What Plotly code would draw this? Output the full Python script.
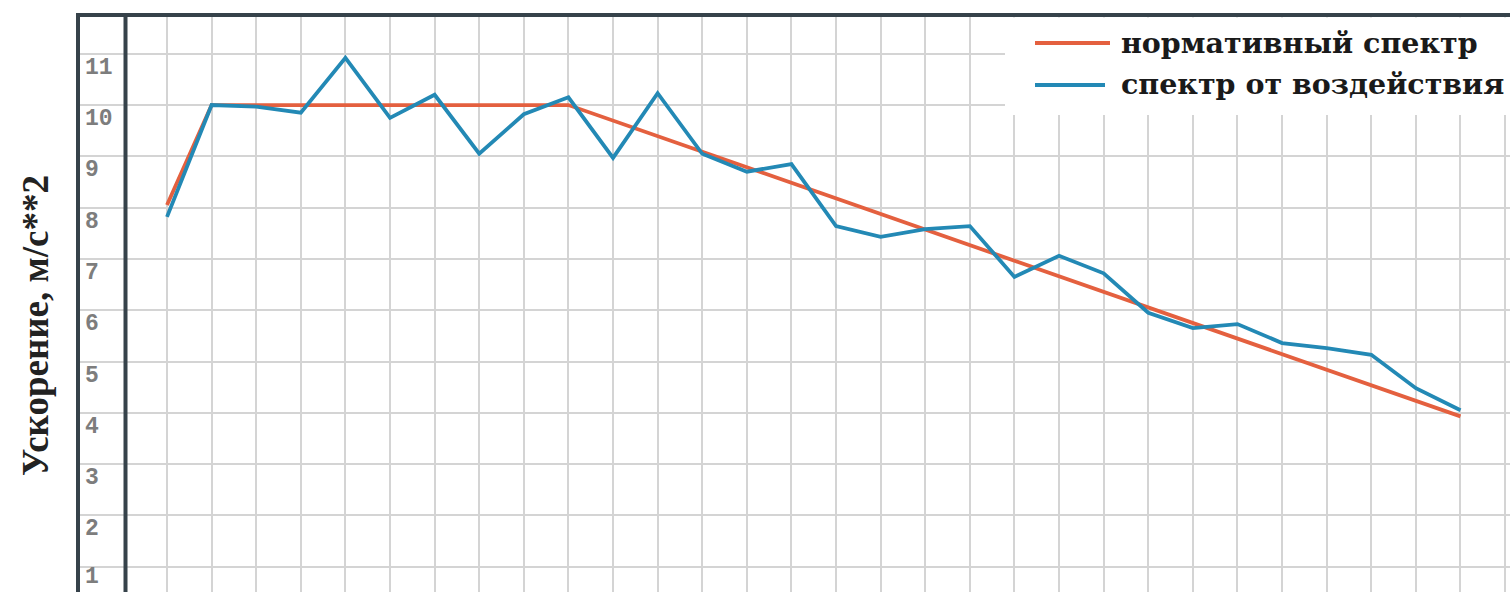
import plotly.graph_objects as go

# Spectrum sample points (grid step index along the horizontal axis)
x_points = list(range(30))

# Normative spectrum: rise, plateau, then linear decay
norm_x = [0, 1, 9, 29]
norm_y = [8.05, 10.0, 10.0, 3.93]

# Spectrum obtained from the excitation record
resp_y = [7.82, 10.0, 9.97, 9.85, 10.92, 9.75, 10.2, 9.05, 9.82, 10.15,
          8.97, 10.23, 9.05, 8.7, 8.85, 7.64, 7.43, 7.58, 7.64, 6.65,
          7.06, 6.72, 5.95, 5.65, 5.73, 5.36, 5.26, 5.13, 4.48, 4.05]

y_ticks = list(range(1, 12))
y_tick_text = [str(v) for v in y_ticks]

legend_names = ["нормативный спектр", "спектр от воздействия"]
y_title = "Ускорение, м/с**2"

RED = "#e4603f"
BLUE = "#2389b5"
FRAME = "#36424a"
GRID = "#d4d4d4"

W, H = 1510, 592
ML, MT = 77, 15
PW, PH = W - ML, H - MT


def px(xpix):
    return (xpix - ML) / PW


def py(ypix):
    return (H - ypix) / PH


fig = go.Figure()
fig.add_trace(go.Scatter(x=norm_x, y=norm_y, mode="lines",
                         line=dict(color=RED, width=3.8), name=legend_names[0],
                         showlegend=False))
fig.add_trace(go.Scatter(x=x_points, y=resp_y, mode="lines",
                         line=dict(color=BLUE, width=3.8), name=legend_names[1],
                         showlegend=False))

shapes = [
    # outer frame of the label column, inner axis frame, top border
    dict(type="line", xref="paper", yref="paper", x0=px(78), x1=px(78), y0=0, y1=py(13),
         line=dict(color=FRAME, width=4)),
    dict(type="line", xref="paper", yref="paper", x0=px(125.5), x1=px(125.5), y0=0, y1=py(13),
         line=dict(color=FRAME, width=4)),
    dict(type="line", xref="paper", yref="paper", x0=px(76), x1=1, y0=py(15), y1=py(15),
         line=dict(color=FRAME, width=4)),
    # legend box
    dict(type="rect", xref="paper", yref="paper", x0=px(1005), x1=1, y0=py(115), y1=py(17.5),
         fillcolor="white", line=dict(width=0), layer="above"),
    dict(type="line", xref="paper", yref="paper", x0=px(1035), x1=px(1110), y0=py(43), y1=py(43),
         line=dict(color=RED, width=4), layer="above"),
    dict(type="line", xref="paper", yref="paper", x0=px(1035), x1=px(1105), y0=py(85), y1=py(85),
         line=dict(color=BLUE, width=4), layer="above"),
]

legend_font = dict(family="DejaVu Serif", size=28.5, color="#1a1a1a", weight="bold")
annotations = [
    dict(xref="paper", yref="paper", x=px(1119), y=py(43), text=legend_names[0],
         showarrow=False, xanchor="left", yanchor="middle", font=legend_font),
    dict(xref="paper", yref="paper", x=px(1119), y=py(84), text=legend_names[1],
         showarrow=False, xanchor="left", yanchor="middle", font=legend_font),
    dict(xref="paper", yref="paper", x=px(35), y=py(326), text=y_title, textangle=-90,
         showarrow=False, xanchor="center", yanchor="middle",
         font=dict(family="Liberation Serif", size=37, color="#222222", weight="bold")),
]

# value labels of the acceleration scale, written just under each grid line
# (the lowest one sits a little higher so it stays inside the figure)
tick_font = dict(family="Liberation Mono", size=23, color="#7d7d7d", weight="bold")
for v, t in zip(y_ticks, y_tick_text):
    annotations.append(dict(xref="paper", yref="y", x=px(84), y=v,
                            yshift=-10 if v == y_ticks[0] else -14, text=t,
                            showarrow=False, xanchor="left", yanchor="middle",
                            borderpad=0, font=tick_font))

fig.update_layout(
    width=W, height=H,
    margin=dict(l=ML, r=0, t=MT, b=0),
    paper_bgcolor="white", plot_bgcolor="white",
    shapes=shapes, annotations=annotations,
    xaxis=dict(range=[-2.018, 30.11], tickvals=list(range(0, 31)), showticklabels=False,
               showgrid=True, gridcolor=GRID, gridwidth=2, zeroline=False, showline=False,
               ticks=""),
    yaxis=dict(range=[0.507, 11.755], tickvals=y_ticks, showticklabels=False,
               showgrid=True, gridcolor=GRID, gridwidth=2, zeroline=False, showline=False,
               ticks=""),
    showlegend=False,
)

fig.write_html("out.html")
